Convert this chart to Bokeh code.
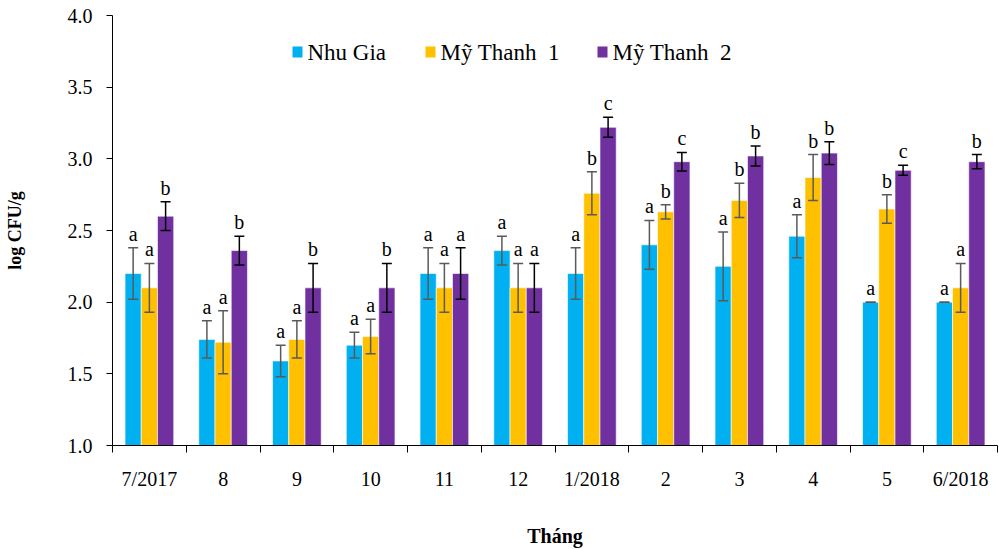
from bokeh.plotting import figure
from bokeh.models import (ColumnDataSource, FixedTicker, Whisker, TeeHead, Label, BoxAnnotation,
                          Range1d, NumeralTickFormatter)
from bokeh.core.properties import value
from bokeh.embed import file_html
from bokeh.resources import INLINE

months = ["7/2017", "8", "9", "10", "11", "12", "1/2018", "2", "3", "4", "5", "6/2018"]
series = ["Nhu Gia", "Mỹ Thanh  1", "Mỹ Thanh  2"]

nhu_gia = [2.20, 1.74, 1.59, 1.70, 2.20, 2.36, 2.20, 2.40, 2.25, 2.46, 2.00, 2.00]
nhu_gia_err = [0.18, 0.13, 0.11, 0.09, 0.18, 0.10, 0.18, 0.17, 0.24, 0.15, 0.00, 0.00]
nhu_gia_sig = ["a", "a", "a", "a", "a", "a", "a", "a", "a", "a", "a", "a"]

my_thanh1 = [2.10, 1.72, 1.74, 1.76, 2.10, 2.10, 2.76, 2.63, 2.71, 2.87, 2.65, 2.10]
my_thanh1_err = [0.17, 0.22, 0.13, 0.12, 0.17, 0.17, 0.15, 0.05, 0.12, 0.16, 0.10, 0.17]
my_thanh1_sig = ["a", "a", "a", "a", "a", "a", "b", "b", "b", "b", "b", "a"]

my_thanh2 = [2.60, 2.36, 2.10, 2.10, 2.20, 2.10, 3.22, 2.98, 3.02, 3.04, 2.92, 2.98]
my_thanh2_err = [0.10, 0.10, 0.17, 0.17, 0.18, 0.17, 0.07, 0.065, 0.07, 0.08, 0.035, 0.05]
my_thanh2_sig = ["b", "b", "b", "b", "a", "a", "c", "c", "b", "b", "c", "b"]

colors = ["#00B0F0", "#FFC000", "#7030A0"]
whisker_colors = ["#5a5a5a", "#5a5a5a", "#000000"]
FONT = "Liberation Serif"

n = len(months)
centers = [i + 0.5 for i in range(n)]
bar_w = 0.22
offsets = [-bar_w, 0.0, bar_w]

p = figure(width=999, height=549, output_backend="svg", toolbar_location=None,
           x_range=Range1d(0, n), y_range=Range1d(1.0, 4.0),
           min_border_left=112, min_border_right=2, min_border_top=15, min_border_bottom=101)
p.outline_line_color = None
p.xgrid.visible = False
p.ygrid.visible = False
p.background_fill_color = "white"

# axes
p.xaxis.ticker = FixedTicker(ticks=centers, minor_ticks=list(range(n + 1)))
p.xaxis.major_label_overrides = {c: m for c, m in zip(centers, months)}
p.xaxis.major_tick_out = 0
p.xaxis.major_tick_in = 0
p.xaxis.minor_tick_out = 7
p.xaxis.minor_tick_in = 0
p.xaxis.minor_tick_line_color = "black"
p.xaxis.axis_line_color = "black"
p.xaxis.major_label_text_font = FONT
p.xaxis.major_label_text_font_size = "20px"
p.xaxis.major_label_text_color = "black"
p.xaxis.major_label_standoff = 15
p.xaxis.axis_label = "Tháng"
p.xaxis.axis_label_text_font = FONT
p.xaxis.axis_label_text_font_style = "bold"
p.xaxis.axis_label_text_font_size = "20px"
p.xaxis.axis_label_text_color = "black"
p.xaxis.axis_label_standoff = 32

p.yaxis.ticker = FixedTicker(ticks=[1.0, 1.5, 2.0, 2.5, 3.0, 3.5, 4.0])
p.yaxis.formatter = NumeralTickFormatter(format="0.0")
p.yaxis.major_tick_out = 6
p.yaxis.major_tick_in = 0
p.yaxis.minor_tick_out = 0
p.yaxis.minor_tick_in = 0
p.yaxis.axis_line_color = "black"
p.yaxis.major_tick_line_color = "black"
p.yaxis.major_label_text_font = FONT
p.yaxis.major_label_text_font_size = "20px"
p.yaxis.major_label_text_color = "black"
p.yaxis.major_label_standoff = 14
p.yaxis.axis_label = "log CFU/g"
p.yaxis.axis_label_text_font = FONT
p.yaxis.axis_label_text_font_style = "bold"
p.yaxis.axis_label_text_font_size = "18px"
p.yaxis.axis_label_text_color = "black"
p.yaxis.axis_label_standoff = 40

vals = [nhu_gia, my_thanh1, my_thanh2]
errs = [nhu_gia_err, my_thanh1_err, my_thanh2_err]
sigs = [nhu_gia_sig, my_thanh1_sig, my_thanh2_sig]

for k in range(3):
    xs = [c + offsets[k] for c in centers]
    src = ColumnDataSource(dict(
        x=xs, top=vals[k],
        upper=[v + e for v, e in zip(vals[k], errs[k])],
        lower=[v - e for v, e in zip(vals[k], errs[k])],
        sig=sigs[k],
    ))
    p.vbar(x="x", top="top", bottom=1.0, width=bar_w, source=src,
           fill_color=colors[k], line_color="white", line_width=0.6)
    w = Whisker(base="x", upper="upper", lower="lower", source=src, level="overlay",
                line_color=whisker_colors[k], line_width=1.5,
                upper_head=TeeHead(size=10, line_color=whisker_colors[k], line_width=1.5),
                lower_head=TeeHead(size=10, line_color=whisker_colors[k], line_width=1.5))
    p.add_layout(w)
    p.text(x="x", y="upper", text="sig", source=src, text_align="center",
           text_baseline="bottom", y_offset=-3, text_font=value(FONT),
           text_font_size="20px", text_color="black")

# legend (screen units relative to the plot frame, y measured upward from frame bottom)
legend_x = [180, 313, 485]
legend_y = 393
for k in range(3):
    x0 = legend_x[k]
    p.add_layout(BoxAnnotation(left=x0, right=x0 + 10, bottom=legend_y - 5, top=legend_y + 6,
                               left_units="screen", right_units="screen",
                               bottom_units="screen", top_units="screen",
                               fill_color=colors[k], fill_alpha=1.0, line_color=None,
                               level="overlay"))
    p.add_layout(Label(x=x0 + 15, y=legend_y, x_units="screen", y_units="screen",
                       text=series[k].replace("  ", " \u00a0"), text_font=FONT,
                       text_font_size="23px", text_color="black",
                       text_baseline="middle", text_align="left"))

open("out.html", "w").write(file_html(p, INLINE))
